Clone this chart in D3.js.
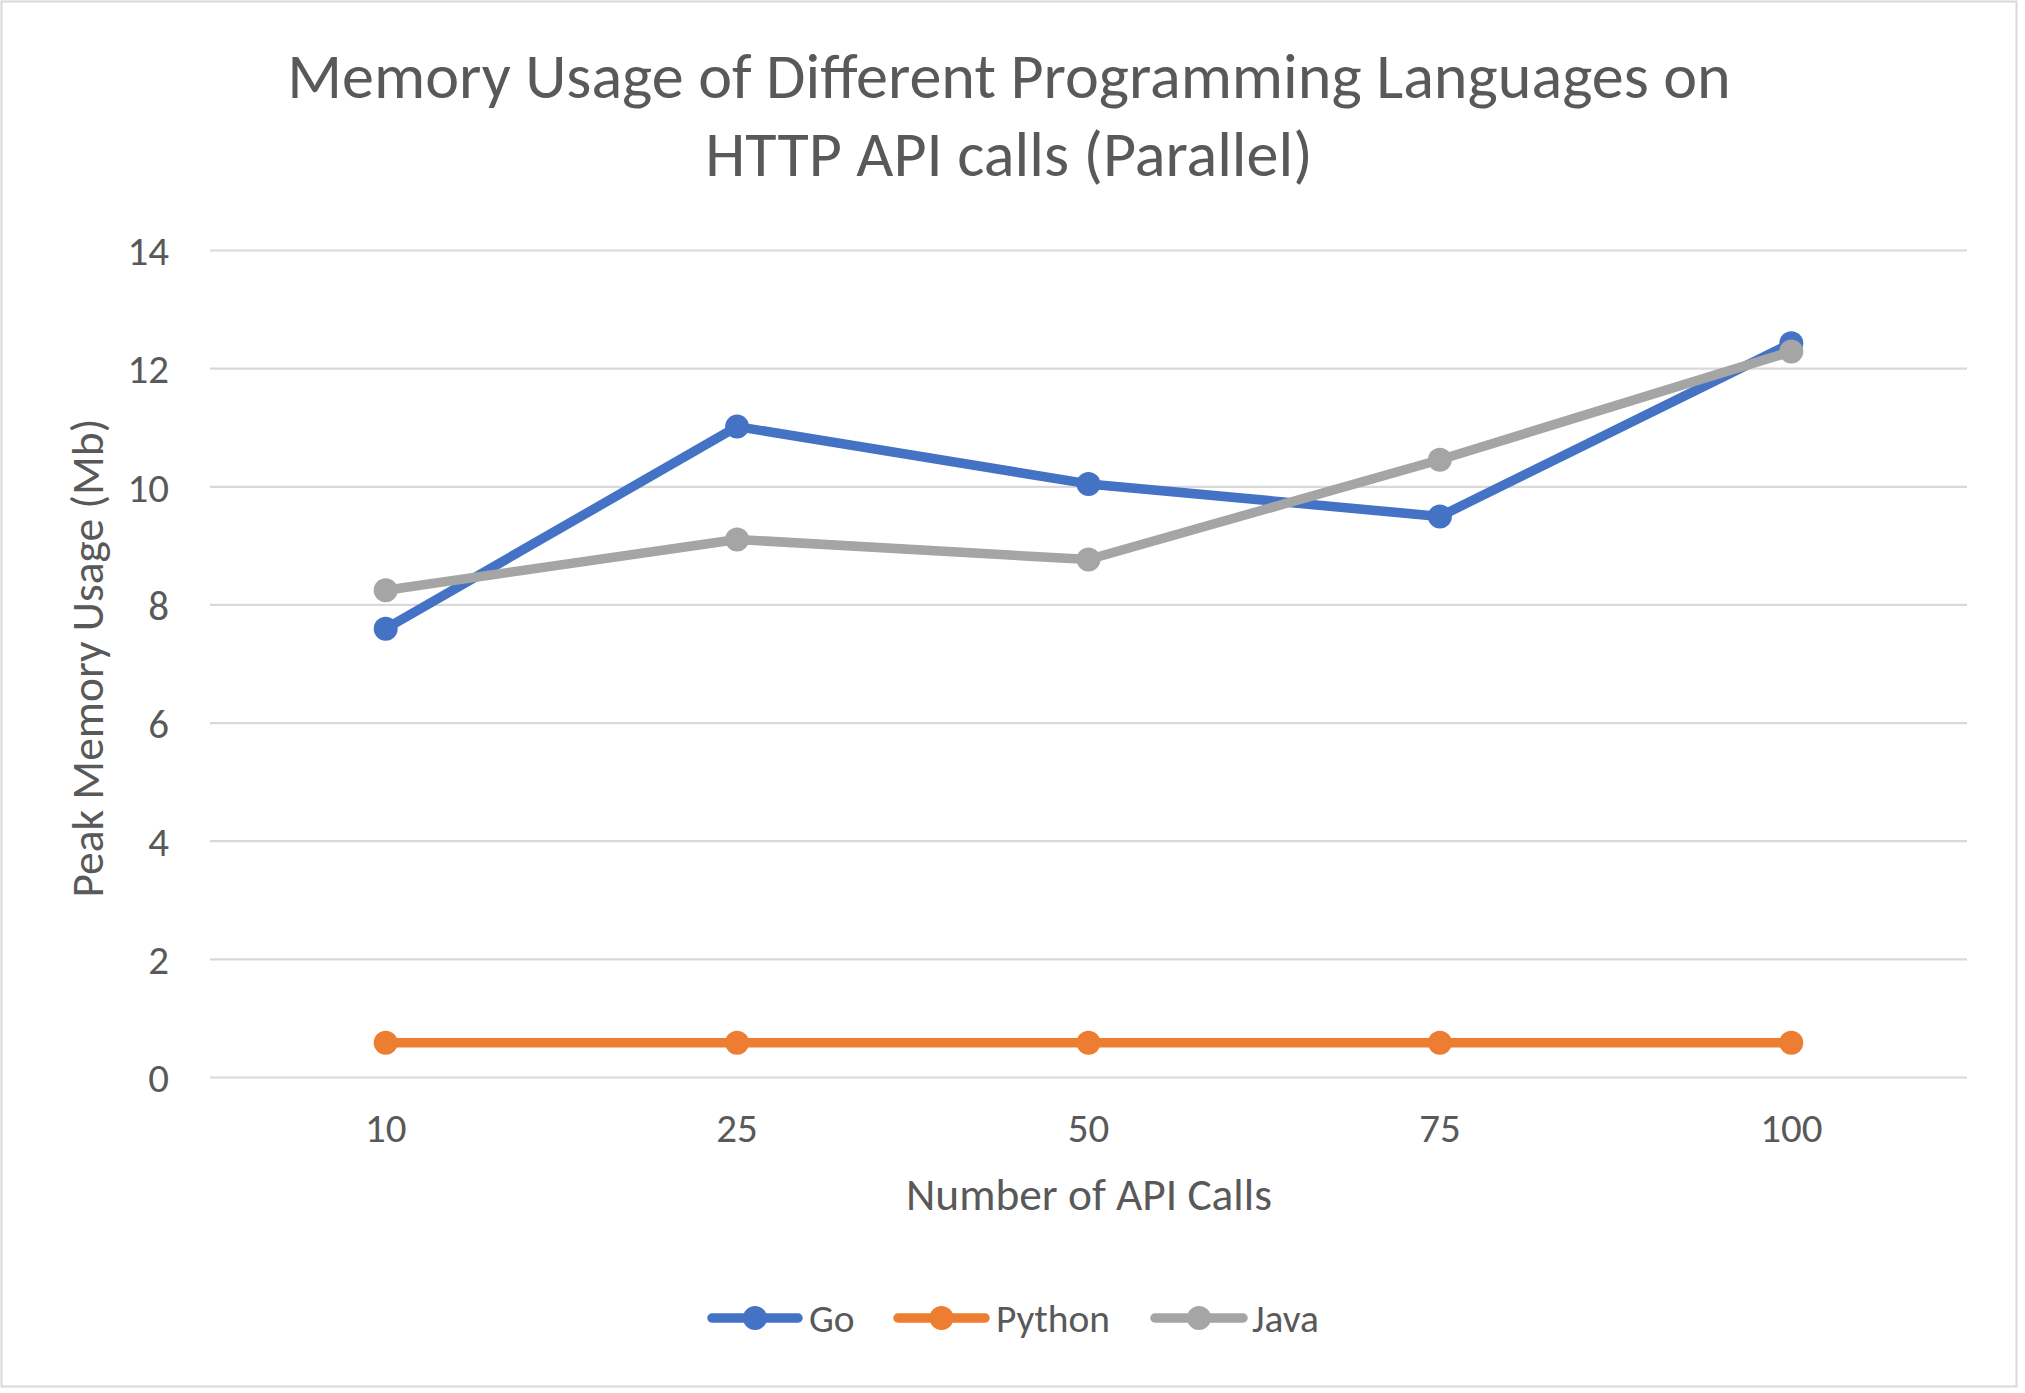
<!DOCTYPE html>
<html>
<head>
<meta charset="utf-8">
<script src="https://cdn.jsdelivr.net/npm/d3@7"></script>
<style>
  html, body { margin: 0; padding: 0; background: #fff; }
  svg { display: block; font-family: Calibri, Carlito, Lato, sans-serif; }
</style>
</head>
<body>
<svg id="chart" width="2025" height="1393"></svg>
<script>
// ---- Data ----
const categories = ["10", "25", "50", "75", "100"];
const goValues     = [7.59, 11.01, 10.04, 9.49, 12.42];
const pythonValues = [0.58, 0.58, 0.58, 0.58, 0.58];
const javaValues   = [8.24, 9.10, 8.76, 10.45, 12.28];
const seriesNames  = ["Go", "Python", "Java"];
const yTicks       = [0, 2, 4, 6, 8, 10, 12, 14];
const titleLines   = ["Memory Usage of Different Programming Languages on", "HTTP API calls (Parallel)"];
const xAxisTitle   = "Number of API Calls";
const yAxisTitle   = "Peak Memory Usage (Mb)";

const series = [
  { name: seriesNames[0], values: goValues,     color: "#4472C4" },
  { name: seriesNames[1], values: pythonValues, color: "#ED7D31" },
  { name: seriesNames[2], values: javaValues,   color: "#A5A5A5" }
];

const textColor = "#595959";
const gridColor = "#D9D9D9";

const svg = d3.select("#chart");

// fit text to a target width by adjusting font-size
function fit(sel, target) {
  const node = sel.node();
  const fs = parseFloat(sel.attr("font-size"));
  const w = node.getComputedTextLength();
  if (w > 0) sel.attr("font-size", (fs * target / w).toFixed(2));
  return sel;
}

// chart border
svg.append("rect")
  .attr("x", 1.5).attr("y", 1.5).attr("width", 2015).attr("height", 1385)
  .attr("fill", "#fff").attr("stroke", gridColor).attr("stroke-width", 2);

// scales
const plot = { left: 210, right: 1967, top: 250, bottom: 1077 };
const x = d3.scaleBand().domain(categories).range([plot.left, plot.right]);
const y = d3.scaleLinear().domain([0, 14]).range([plot.bottom, plot.top]);

// gridlines via axis
const gridAxis = d3.axisLeft(y).tickValues(yTicks).tickSize(-(plot.right - plot.left)).tickFormat("");
const grid = svg.append("g").attr("transform", `translate(${plot.left},0)`).call(gridAxis);
grid.select(".domain").remove();
grid.selectAll(".tick line").attr("stroke", gridColor).attr("stroke-width", 2.2);

// y tick labels
const yAxis = d3.axisLeft(y).tickValues(yTicks).tickSize(0).tickPadding(0).tickFormat(d3.format("d"));
const yg = svg.append("g").attr("transform", `translate(169,0)`).call(yAxis);
yg.select(".domain").remove();
yg.selectAll(".tick text")
  .attr("fill", textColor).attr("font-size", 40).attr("font-family", "Calibri, Carlito, Lato, sans-serif")
  .attr("dy", "0.36em");

// x tick labels
const xAxis = d3.axisBottom(x).tickSize(0).tickPadding(0);
const xg = svg.append("g").attr("transform", `translate(0,${plot.bottom})`).call(xAxis);
xg.select(".domain").remove();
xg.selectAll(".tick text")
  .attr("fill", textColor).attr("font-size", 40).attr("font-family", "Calibri, Carlito, Lato, sans-serif")
  .attr("dy", null).attr("y", 65);

// tick font sized to match reference digit size
(function(){
  const probe = svg.append("text").attr("font-size", 40).text("10");
  fit(probe, 41.5);
  const fs = probe.attr("font-size");
  probe.remove();
  yg.selectAll(".tick text").attr("font-size", fs);
  xg.selectAll(".tick text").attr("font-size", fs);
})();

// lines
const line = d3.line()
  .x((d, i) => x(categories[i]) + x.bandwidth() / 2)
  .y(d => y(d));

series.forEach(s => {
  const g = svg.append("g");
  g.append("path")
    .attr("d", line(s.values))
    .attr("fill", "none").attr("stroke", s.color)
    .attr("stroke-width", 9.5).attr("stroke-linejoin", "round").attr("stroke-linecap", "round");
  g.selectAll("circle").data(s.values).join("circle")
    .attr("cx", (d, i) => x(categories[i]) + x.bandwidth() / 2)
    .attr("cy", d => y(d))
    .attr("r", 12).attr("fill", s.color);
});

// title
const titleG = svg.append("g");
const t1 = titleG.append("text").attr("x", 1009).attr("y", 98).attr("text-anchor", "middle")
  .attr("fill", textColor).attr("font-size", 62).text(titleLines[0]);
fit(t1, 1444);
const t2 = titleG.append("text").attr("x", 1009).attr("y", 176).attr("text-anchor", "middle")
  .attr("fill", textColor).attr("font-size", t1.attr("font-size")).text(titleLines[1]);

// axis titles
const xt = svg.append("text").attr("x", 1089).attr("y", 1210).attr("text-anchor", "middle")
  .attr("fill", textColor).attr("font-size", 45).text(xAxisTitle);
fit(xt, 366);
const yt = svg.append("text").attr("transform", "translate(103,658) rotate(-90)")
  .attr("text-anchor", "middle").attr("fill", textColor)
  .attr("font-size", xt.attr("font-size")).text(yAxisTitle);

// legend
const legendPos = [
  { x0: 707, x1: 803, tx: 809 },
  { x0: 893, x1: 990, tx: 996 },
  { x0: 1150, x1: 1248, tx: 1252 }
];
const ly = 1318;
const legFs = (function(){
  const probe = svg.append("text").attr("font-size", 40).text("Python");
  fit(probe, 114);
  const f = probe.attr("font-size"); probe.remove(); return f;
})();
series.forEach((s, i) => {
  const p = legendPos[i];
  const g = svg.append("g");
  g.append("line").attr("x1", p.x0 + 5).attr("x2", p.x1 - 5).attr("y1", ly).attr("y2", ly)
    .attr("stroke", s.color).attr("stroke-width", 9.5).attr("stroke-linecap", "round");
  g.append("circle").attr("cx", (p.x0 + p.x1) / 2).attr("cy", ly).attr("r", 12).attr("fill", s.color);
  g.append("text").attr("x", p.tx).attr("y", ly).attr("dy", "0.36em")
    .attr("fill", textColor).attr("font-size", legFs).text(s.name);
});
</script>
</body>
</html>
